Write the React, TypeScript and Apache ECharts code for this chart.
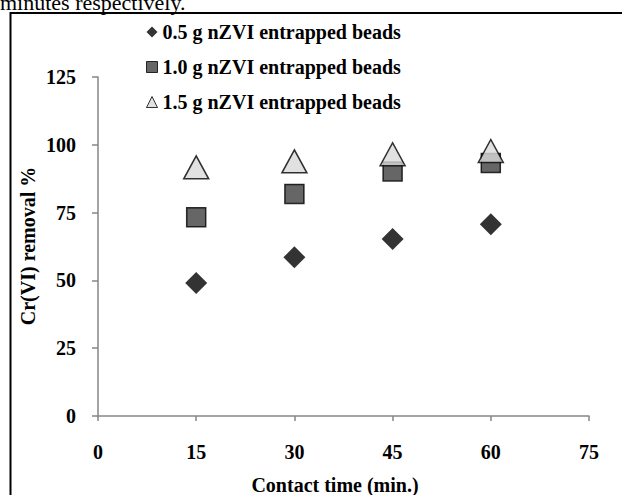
import React, { useEffect, useRef } from "react";
import * as echarts from "echarts";

const timeCategories = [15, 30, 45, 60];
const beads05 = [49.0, 58.5, 65.3, 70.7];
const beads10 = [73.3, 81.9, 90.2, 93.3];
const beads15 = [91.7, 93.9, 96.5, 97.7];
const seriesNames = [
  "0.5 g nZVI entrapped beads",
  "1.0 g nZVI entrapped beads",
  "1.5 g nZVI entrapped beads",
];

const FONT = "'Liberation Serif', 'Times New Roman', serif";

export default function App() {
  const ref = useRef<HTMLDivElement>(null);
  useEffect(() => {
    if (!ref.current) return;
    const chart = echarts.init(ref.current, null, { renderer: "svg" });
    const pair = (vals: number[]) => timeCategories.map((t, i) => [t, vals[i]]);
    chart.setOption({
      animation: false,
      backgroundColor: "#ffffff",
      grid: { left: 98, right: 33, top: 77, bottom: 79, containLabel: false },
      legend: {
        orient: "vertical",
        left: 141,
        top: 17,
        itemGap: 15,
        itemWidth: 11,
        itemHeight: 11,
        textStyle: { fontFamily: FONT, fontWeight: "bold", fontSize: 20, color: "#000" },
        data: [
          { name: seriesNames[0], icon: "diamond", itemStyle: { color: "#000", borderWidth: 0 } },
          { name: seriesNames[1], icon: "rect", itemStyle: { color: "#404040", borderColor: "#000", borderWidth: 1 } },
          { name: seriesNames[2], icon: "triangle", itemStyle: { color: "#d9d9d9", borderColor: "#000", borderWidth: 1 } },
        ],
      },
      xAxis: {
        type: "value",
        min: 0,
        max: 75,
        interval: 15,
        axisLine: { show: true, lineStyle: { color: "#868686", width: 1.5 } },
        axisTick: { show: true, inside: false, length: 5, lineStyle: { color: "#868686", width: 1.5 } },
        splitLine: { show: false },
        axisLabel: { margin: 26, fontFamily: FONT, fontWeight: "bold", fontSize: 20, color: "#000" },
      },
      yAxis: {
        type: "value",
        min: 0,
        max: 125,
        interval: 25,
        axisLine: { show: true, lineStyle: { color: "#868686", width: 1.5 } },
        axisTick: { show: true, inside: false, length: 6, lineStyle: { color: "#868686", width: 1.5 } },
        splitLine: { show: false },
        axisLabel: { margin: 22, fontFamily: FONT, fontWeight: "bold", fontSize: 20, color: "#000" },
      },
      series: [
        {
          name: seriesNames[0],
          type: "scatter",
          symbol: "diamond",
          symbolSize: 22,
          itemStyle: { color: "#000", borderWidth: 0 },
          data: pair(beads05),
        },
        {
          name: seriesNames[1],
          type: "scatter",
          symbol: "rect",
          symbolSize: 19,
          itemStyle: { color: "#404040", borderColor: "#000", borderWidth: 1.5 },
          data: pair(beads10),
        },
        {
          name: seriesNames[2],
          type: "scatter",
          symbol: "triangle",
          symbolSize: [25, 23],
          itemStyle: { color: "#d9d9d9", borderColor: "#000", borderWidth: 1.5 },
          data: pair(beads15),
        },
      ],
      graphic: [
        {
          type: "rect",
          shape: { x: 10.5, y: 13, width: 700, height: 600 },
          style: { fill: "none", stroke: "#000", lineWidth: 2 },
          silent: true,
        },
        {
          type: "text",
          x: 0,
          y: 13,
          style: {
            text: "minutes respectively.",
            fontFamily: FONT,
            fontSize: 22,
            fill: "#000",
            verticalAlign: "bottom",
            align: "left",
          },
        },
        {
          type: "text",
          x: 335,
          y: 485,
          style: {
            text: "Contact time (min.)",
            fontFamily: FONT,
            fontWeight: "bold",
            fontSize: 20,
            fill: "#000",
            align: "center",
            verticalAlign: "middle",
          },
        },
        {
          type: "text",
          x: 28,
          y: 246,
          rotation: Math.PI / 2,
          style: {
            text: "Cr(VI) removal %",
            fontFamily: FONT,
            fontWeight: "bold",
            fontSize: 20,
            fill: "#000",
            align: "center",
            verticalAlign: "middle",
          },
        },
      ],
    });
    return () => chart.dispose();
  }, []);
  return (
    <div
      ref={ref}
      style={{ position: "fixed", left: 0, top: 0, width: 622, height: 495 }}
    />
  );
}
